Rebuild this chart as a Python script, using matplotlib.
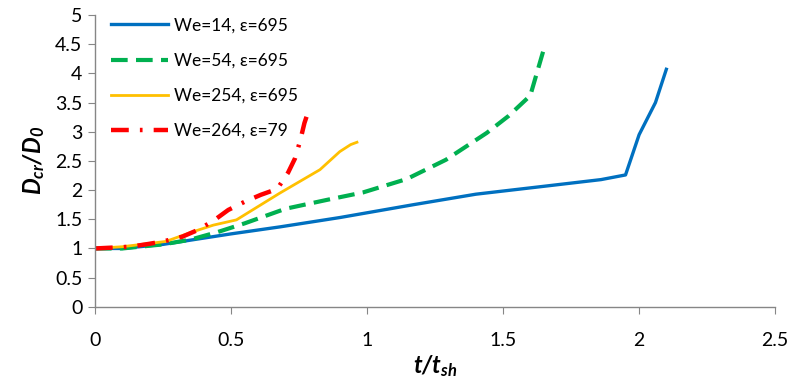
import matplotlib
matplotlib.use("Agg")
import matplotlib.pyplot as plt

t_we14 = [0.0, 0.1, 0.25, 0.5, 0.68, 0.9, 1.17, 1.4, 1.64, 1.86, 1.95, 2.0, 2.06, 2.1]
d_we14 = [1.0, 1.0, 1.07, 1.25, 1.37, 1.53, 1.75, 1.93, 2.06, 2.18, 2.26, 2.95, 3.5, 4.07]

t_we54 = [0.0, 0.1, 0.25, 0.35, 0.45, 0.55, 0.7, 0.85, 0.985, 1.146, 1.29, 1.44, 1.52, 1.6, 1.63, 1.65]
d_we54 = [1.0, 1.0, 1.07, 1.15, 1.28, 1.43, 1.68, 1.83, 1.96, 2.19, 2.52, 2.98, 3.27, 3.62, 4.1, 4.42]

t_we254 = [0.0, 0.1, 0.26, 0.35, 0.435, 0.52, 0.68, 0.827, 0.9, 0.94, 0.963]
d_we254 = [1.0, 1.03, 1.12, 1.27, 1.4, 1.49, 1.95, 2.35, 2.66, 2.78, 2.82]

t_we264 = [0.0, 0.13, 0.2, 0.25, 0.32, 0.38, 0.44, 0.49, 0.55, 0.61, 0.67, 0.71, 0.735, 0.754, 0.77, 0.79]
d_we264 = [1.0, 1.03, 1.08, 1.12, 1.2, 1.32, 1.49, 1.66, 1.8, 1.92, 2.02, 2.3, 2.54, 2.84, 3.15, 3.43]

labels = ["We=14, ε=695", "We=54, ε=695", "We=254, ε=695", "We=264, ε=79"]
x_ticks = [0, 0.5, 1, 1.5, 2, 2.5]
y_ticks = [0, 0.5, 1, 1.5, 2, 2.5, 3, 3.5, 4, 4.5, 5]

plt.rcParams["font.family"] = ["Lato", "DejaVu Sans"]
plt.rcParams["mathtext.fontset"] = "custom"
plt.rcParams["mathtext.it"] = "Lato:italic:bold"
plt.rcParams["mathtext.rm"] = "Lato:italic:bold"

fig = plt.figure(figsize=(7.91, 3.85), dpi=100)
ax = fig.add_axes([0.12, 0.203, 0.86, 0.758])

ax.plot(t_we14, d_we14, color="#0070C0", lw=2.4, label=labels[0])
ax.plot(t_we54, d_we54, color="#00B050", lw=3.0, dashes=(4, 2), label=labels[1])
ax.plot(t_we254, d_we254, color="#FFC000", lw=2.0, label=labels[2])
ax.plot(t_we264, d_we264, color="#FF0000", lw=3.2, dashes=(4, 2.5, 0.6, 2.5), label=labels[3])

ax.set_xlim(0, 2.5)
ax.set_ylim(0, 5)
ax.set_xticks(x_ticks)
ax.set_xticklabels([f"{v:g}" for v in x_ticks])
ax.set_yticks(y_ticks)
ax.set_yticklabels([f"{v:g}" for v in y_ticks])

for side in ["top", "right"]:
    ax.spines[side].set_visible(False)
for side in ["left", "bottom"]:
    ax.spines[side].set_color("#868686")
    ax.spines[side].set_linewidth(1.0)
ax.tick_params(axis="x", colors="#868686", length=5, pad=13, labelsize=14, labelcolor="black")
ax.tick_params(axis="y", colors="#868686", length=5, pad=4, labelsize=14, labelcolor="black")

ax.set_xlabel("t/t$_{sh}$", fontsize=17, fontweight="bold", fontstyle="italic", labelpad=3)
ax.set_ylabel("D$_{cr}$/D$_0$", fontsize=17, fontweight="bold", fontstyle="italic", labelpad=6)

ax.legend(loc="upper left", bbox_to_anchor=(0.0, 1.045), frameon=False, fontsize=12.5,
          handlelength=3.3, labelspacing=1.1, handletextpad=0.35)

fig.savefig("out.png", dpi=100)
